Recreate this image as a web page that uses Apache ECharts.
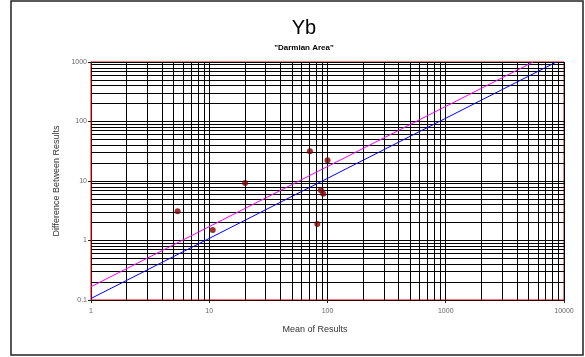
<!DOCTYPE html>
<html>
<head>
<meta charset="utf-8">
<script src="https://cdn.jsdelivr.net/npm/echarts@6/dist/echarts.min.js"></script>
<style>html,body{margin:0;padding:0;background:#fff}#c{width:585px;height:357px}</style>
</head>
<body>
<div id="c"></div>
<script>
// Data
const meanOfResults = [5.4, 10.7, 20.1, 71, 100, 88, 92, 82];
const diffBetweenResults = [3.1, 1.5, 9.3, 31.7, 22.4, 7.0, 6.1, 1.9];
const magentaLineX = [1, 5480];
const magentaLineY = [0.167, 1000];
const blueLineX = [1, 8630];
const blueLineY = [0.106, 1000];
const xTicks = [1, 10, 100, 1000, 10000];
const yTicks = [0.1, 1, 10, 100, 1000];
const minorMultipliers = [2, 3, 4, 5, 6, 7, 8, 9];

const FONT = 'Liberation Sans, Arial, sans-serif';
function minorLines(ticks, key) {
  const out = [];
  for (let i = 0; i < ticks.length - 1; i++) {
    for (const m of minorMultipliers) {
      const o = {}; o[key] = +(ticks[i] * m).toPrecision(6); out.push(o);
    }
  }
  return out;
}
const fmt = v => String(+Number(v).toPrecision(6));

const chart = echarts.init(document.getElementById('c'), null, {renderer: 'canvas'});
chart.setOption({
  animation: false,
  backgroundColor: '#fff',
  title: [
    {text: 'Yb', left: 299, top: 13, textAlign: 'center',
     textStyle: {fontFamily: FONT, fontSize: 20, fontWeight: 'normal', color: '#000'}},
    {text: '"Darmian Area"', left: 299, top: 39, textAlign: 'center',
     textStyle: {fontFamily: FONT, fontSize: 8, fontWeight: 'bold', color: '#000'}}
  ],
  graphic: [{type: 'rect', shape: {x: 11, y: 1, width: 572, height: 354},
    style: {fill: 'none', stroke: '#222', lineWidth: 1.5}, silent: true, z: 100}],
  grid: {left: 91, top: 62, width: 473, height: 238, show: true,
         borderColor: '#e00000', borderWidth: 1, backgroundColor: 'transparent'},
  xAxis: {
    type: 'log', logBase: 10, min: xTicks[0], max: xTicks[xTicks.length - 1],
    name: 'Mean of Results', nameLocation: 'middle', nameGap: 25,
    nameTextStyle: {fontFamily: FONT, fontSize: 9, color: '#333', padding: [0, 25, 0, 0]},
    axisLine: {show: true, onZero: false, lineStyle: {color: '#3a0000', width: 1}},
    axisTick: {show: true, inside: false, length: 3, lineStyle: {color: '#222'}},
    axisLabel: {fontFamily: FONT, fontSize: 7, color: '#666', margin: 8, formatter: fmt},
    splitLine: {show: true, lineStyle: {color: '#000', width: 1}},
    minorTick: {show: false}, minorSplitLine: {show: false}
  },
  yAxis: {
    type: 'log', logBase: 10, min: yTicks[0], max: yTicks[yTicks.length - 1],
    name: 'Difference Between Results', nameLocation: 'middle', nameGap: 28, nameRotate: 90,
    nameTextStyle: {fontFamily: FONT, fontSize: 9, color: '#333'},
    axisLine: {show: true, onZero: false, lineStyle: {color: '#900000', width: 1}},
    axisTick: {show: true, inside: false, length: 3, lineStyle: {color: '#222'}},
    axisLabel: {fontFamily: FONT, fontSize: 7, color: '#666', margin: 4, formatter: fmt},
    splitLine: {show: true, lineStyle: {color: '#000', width: 1}},
    minorTick: {show: false}, minorSplitLine: {show: false}
  },
  series: [
    {type: 'line', data: [[xTicks[0], yTicks[0]]], symbol: 'none', silent: true, z: 1,
     lineStyle: {opacity: 0},
     markLine: {silent: true, symbol: 'none', animation: false, label: {show: false},
       lineStyle: {color: '#000', width: 1, type: 'solid'},
       data: minorLines(xTicks, 'xAxis').concat(minorLines(yTicks, 'yAxis'))}},
    {type: 'line', data: magentaLineX.map((x, i) => [x, magentaLineY[i]]), symbol: 'none',
     lineStyle: {color: '#ff00ff', width: 1}, z: 5, clip: true},
    {type: 'line', data: blueLineX.map((x, i) => [x, blueLineY[i]]), symbol: 'none',
     lineStyle: {color: '#0000ff', width: 1}, z: 5, clip: true},
    {type: 'scatter', data: meanOfResults.map((x, i) => [x, diffBetweenResults[i]]),
     symbol: 'circle', symbolSize: 6, itemStyle: {color: '#800000'}, z: 6}
  ]
});
</script>
</body>
</html>
